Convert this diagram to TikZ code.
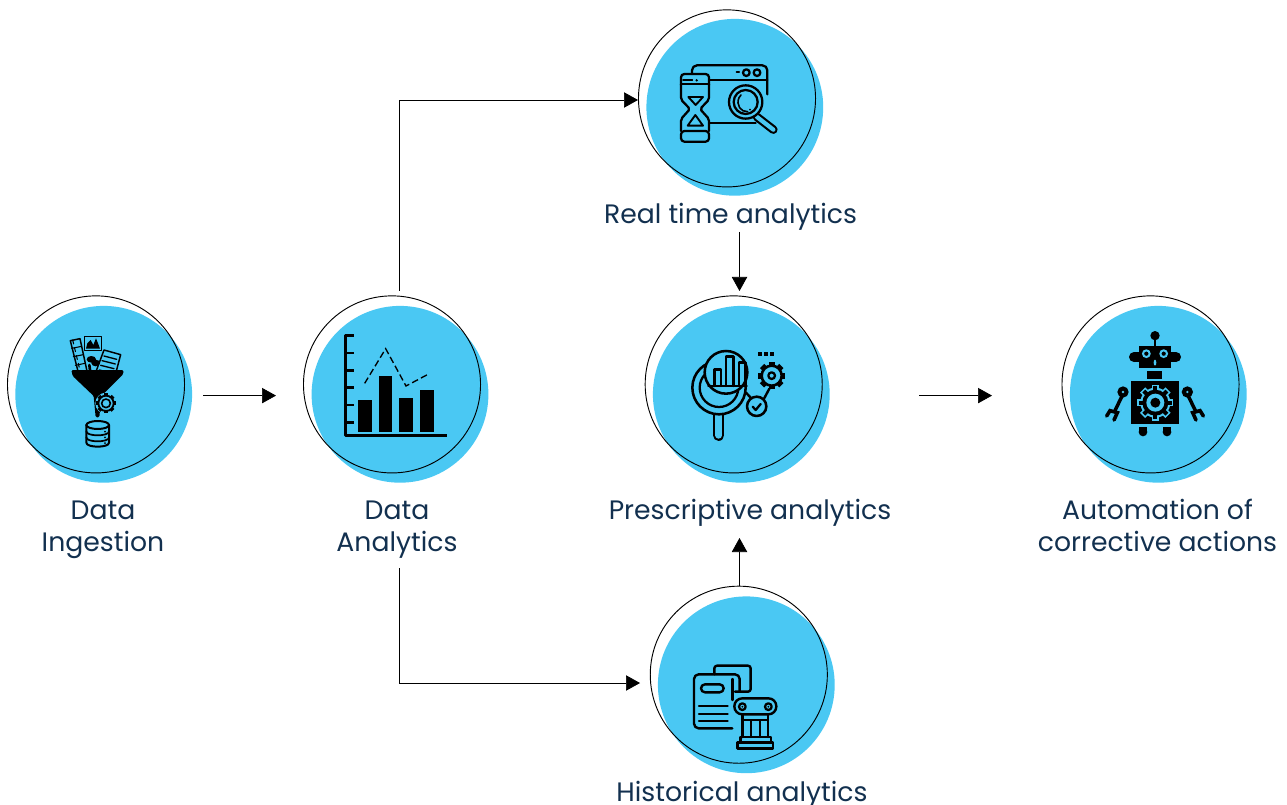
\documentclass[tikz,border=0pt]{standalone}
\usepackage{fontspec}
\setmainfont{Poppins}
\usetikzlibrary{arrows.meta}
\definecolor{skyfill}{HTML}{4AC8F3}
\definecolor{inkblue}{HTML}{12304F}
\tikzset{
 disc/.style={circle,fill=skyfill,draw=none,minimum size=132.6pt,inner sep=0pt},
 ring/.style={circle,draw=black,line width=0.7pt,minimum size=132.8pt,inner sep=0pt},
 lab/.style={text=inkblue,font=\fontsize{20pt}{24pt}\selectfont,align=center,inner sep=0pt,anchor=base},
 conn/.style={draw=black,line width=0.55pt,-{Triangle[length=10.5pt,width=11.5pt]}},
 ic/.style={draw=black,line width=1.7pt,line join=round,line cap=round},
 icon/.style={x=0.25pt,y=-0.25pt}
}
\begin{document}
\begin{tikzpicture}[x=0.75pt,y=-0.75pt]
\useasboundingbox (0,0) rectangle (1287,805);
% discs
\node[disc] (d1) at (103.7,394.3) {};
\node[disc] (d2) at (400,394.3) {};
\node[disc] (d3) at (734.8,107.3) {};
\node[disc] (d4) at (741.3,394.3) {};
\node[disc] (d5) at (746.3,684.8) {};
\node[disc] (d6) at (1158.3,394.3) {};
% rings
\node[ring] (n1) at (96,384.4) {};
\node[ring] (n2) at (392,384.4) {};
\node[ring] (n3) at (727,98.4) {};
\node[ring] (n4) at (733.7,384.4) {};
\node[ring] (n5) at (738.8,674.7) {};
\node[ring] (n6) at (1150.5,384.4) {};
% labels
\node[lab] (t1) at (103,551) {Data\\Ingestion};
\node[lab] (t2) at (397,551) {Data\\Analytics};
\node[lab] (t3) at (730.5,224) {Real time analytics};
\node[lab] (t4) at (750,519.3) {Prescriptive analytics};
\node[lab] (t5) at (742,801.3) {Historical analytics};
\node[lab] (t6) at (1157.5,551) {Automation of\\corrective actions};
% connector ends
\coordinate (a1s) at (203,395.6); \coordinate (a1e) at (276,395.6);
\coordinate (a2s) at (399.5,291); \coordinate (a2e) at (638,100);
\coordinate (a3s) at (399.5,568); \coordinate (a3e) at (640,683);
\coordinate (a4s) at (739.5,232); \coordinate (a4e) at (739.5,291);
\coordinate (a5s) at (739.5,586); \coordinate (a5e) at (739.5,538);
\coordinate (a6s) at (919,395.6); \coordinate (a6e) at (992,395.6);
\draw[conn] (a1s) -- (a1e);
\draw[conn] (a2s) |- (a2e);
\draw[conn] (a3s) |- (a3e);
\draw[conn] (a4s) -- (a4e);
\draw[conn] (a5s) -- (a5e);
\draw[conn] (a6s) -- (a6e);
% ---- icon 1: funnel
\begin{scope}[shift={(0,290)},icon]
 \draw[ic,line width=1.1pt] (211,152) -- (240,146) -- (262,248) -- (236,252) -- cycle;
 \draw[ic,line width=0.8pt,dashed] (218,150) -- (242,250);
 \draw[ic,line width=0.8pt] (215,175) -- (245,169) (220,200) -- (250,194) (226,226) -- (255,220);
 \draw[ic,line width=1.1pt] (254,140) rectangle (304,182);
 \fill (258,176) -- (262,160) -- (272,150) -- (280,165) -- (288,145) -- (296,165) -- (300,176) -- cycle;
 \draw[ic,line width=1.1pt,fill=skyfill] (312,180) -- (362,194) -- (344,262) -- (286,250) -- cycle;
 \draw[ic,line width=1pt] (312,198) -- (350,208) (306,212) -- (346,222) (302,226) -- (342,236) (298,240) -- (330,248);
 \fill (274,208) ellipse (14 and 10); \fill (287,219) ellipse (13 and 10);
 \draw[ic,line width=2pt] (268,225) -- (272,255);
 \fill[black,rounded corners=1pt] (214,240) -- (370,240) -- (370,252) -- (304,318) -- (298,382) -- (287,382) -- (281,318) -- (218,258) -- cycle;
 \begin{scope}[shift={(318,340)}]
 \fill[skyfill] (0,0) circle (32);
 \foreach \a in {0,45,...,315}{\fill[black,rotate=\a] (-6,-30) rectangle (6,-20);}
 \draw[ic,line width=1.4pt,fill=skyfill] (0,0) circle (23);
 \draw[ic,line width=1.2pt] (0,0) circle (13);
 \end{scope}
 \draw[ic,line width=1.5pt] (259,405) -- (259,458) .. controls (259,474) and (327,474) .. (327,458) -- (327,405);
 \draw[ic,line width=1.5pt] (293,405) ellipse (34 and 12);
 \draw[ic,line width=1.3pt] (259,424) .. controls (259,440) and (327,440) .. (327,424);
 \draw[ic,line width=1.3pt] (259,442) .. controls (259,458) and (327,458) .. (327,442);
 \fill (315,425) circle (3) (315,442) circle (3) (315,459) circle (3);
\end{scope}
% ---- icon 2: chart
\begin{scope}[shift={(300,290)},icon]
 \draw[ic,line width=1.8pt,line cap=butt] (161,136) -- (137,136) -- (137,436) -- (440,436);
 \foreach \y in {189,241,293,345,397}{\draw[ic,line width=1.8pt,line cap=butt] (137,\y) -- (161,\y);}
 \foreach \xa/\ya in {174/331,236/259,298/324,360/299}{\fill[black] (\xa,\ya) rectangle (\xa+41,426);}
 \draw[black,line width=1pt,dash pattern=on 5pt off 2.5pt] (194,280) -- (257,176) -- (318,288) -- (382,254);
\end{scope}
% ---- icon 3: hourglass & window
\begin{scope}[shift={(635,5)},icon]
 \draw[ic,rounded corners=3.75pt] (171,207) -- (171,181) -- (397,181) -- (397,268);
 \draw[ic] (225,225) -- (397,225);
 \draw[ic] (305,202) -- (312,202);
 \draw[ic] (334,203) circle (10); \draw[ic] (366,203) circle (10);
 \draw[ic] (225,354) -- (362,354);
 \draw[ic,rounded corners=2.5pt] (138,240) -- (138,207) -- (222,207) -- (222,240);
 \draw[ic,line width=1.3pt] (144,224) -- (172,224) (140,238) -- (220,238);
 \fill (185,226) circle (4);
 \draw[ic,rounded corners=1.5pt] (138,238) -- (138,284) -- (165,312) -- (138,342) -- (138,378);
 \draw[ic,rounded corners=1.5pt] (222,238) -- (222,284) -- (195,312) -- (222,342) -- (222,378);
 \draw[ic,rounded corners=2.5pt] (138,378) -- (138,410) -- (222,410) -- (222,378) -- cycle;
 \draw[ic,line width=1.4pt] (160,276) -- (204,276) -- (182,300) -- cycle;
 \draw[ic,line width=1.4pt] (158,362) -- (204,362) -- (181,330) -- cycle;
 \draw[black,line width=6.4pt,line cap=round] (366,336) -- (415,374);
 \draw[skyfill,line width=3.2pt,line cap=round] (366,336) -- (415,374);
 \draw[ic,fill=skyfill] (332,291) circle (50);
 \draw[ic] (332,291) circle (36);
 \draw[ic,line width=1.2pt] (338,320) .. controls (318,322) and (302,300) .. (312,278) .. controls (314,274) and (316,272) .. (318,270);
 \fill (345,314) circle (3);
\end{scope}
% ---- icon 4: prescriptive
\begin{scope}[shift={(640,290)},icon]
 \draw[black,line width=8.4pt,line cap=round] (236,360) -- (236,436);
 \draw[skyfill,line width=5pt,line cap=round] (236,360) -- (236,436);
 \draw[ic,line width=1.9pt,fill=skyfill] (237,293) circle (80);
 \draw[ic,line width=1.7pt] (237,293) circle (58);
 \draw[ic,fill=skyfill,line width=1.9pt] (258,247) circle (64);
 \draw[ic,line width=1.8pt] (205,288) -- (320,288);
 \draw[ic,line width=1.8pt] (224,288) -- (224,238) -- (243,238) -- (243,288);
 \draw[ic,line width=1.8pt] (258,288) -- (258,200) -- (280,200) -- (280,288);
 \draw[ic,line width=1.8pt] (297,288) -- (297,218) -- (317,218) -- (317,288);
 \foreach \x in {354,372,390}{\fill[black] (\x,186) rectangle (\x+12,198);}
 \draw[ic,line width=1.8pt] (318,308) -- (333,324);
 \draw[ic,line width=1.8pt] (371,328) -- (388,296);
 \draw[ic,line width=1.9pt] (350,349) circle (29);
 \draw[ic,line width=1.7pt] (338,350) -- (347,360) -- (362,342);
 \begin{scope}[shift={(395,257)}]
 \foreach \a in {0,45,...,315}{\fill[black,rotate=\a] (-9,-41) rectangle (9,-28);}
 \draw[ic,line width=1.9pt,fill=skyfill] (0,0) circle (30);
 \draw[ic,line width=1.7pt] (0,0) circle (10);
 \end{scope}
\end{scope}
% ---- icon 5: history
\begin{scope}[shift={(645,585)},icon]
 \draw[ic,line width=1.8pt,rounded corners=2pt] (208,268) -- (208,242) -- (317,242) -- (317,320) -- (270,320);
 \draw[ic,line width=1.8pt,rounded corners=3.5pt] (262,430) -- (147,430) -- (147,268) -- (284,268) -- (284,320);
 \draw[ic,line width=1.8pt] (262,282) -- (262,345);
 \draw[ic,line width=1.8pt,rounded corners=3pt] (168,298) rectangle (236,322);
 \draw[ic,line width=1.7pt] (162,364) -- (248,364) (162,386) -- (248,386) (162,407) -- (248,407);
 \draw[ic,line width=1.8pt,fill=skyfill,rounded corners=5.9pt] (268,340) rectangle (394,388);
 \draw[ic,line width=1.7pt] (292,365) circle (10); \draw[ic,line width=1.7pt] (370,365) circle (10);
 \fill (292,365) circle (3); \fill (370,365) circle (3);
 \draw[ic,line width=1.8pt] (293,388) -- (293,456) (369,388) -- (369,456);
 \draw[ic,line width=1.7pt] (297,405) -- (365,405);
 \draw[ic,line width=1.5pt] (318,408) -- (318,456) (344,408) -- (344,456);
 \draw[ic,line width=1.8pt] (286,456) -- (378,456) -- (378,472) -- (286,472) -- cycle;
 \draw[ic,line width=1.8pt] (278,472) rectangle (384,490);
\end{scope}
% ---- icon 6: robot
\begin{scope}[shift={(1060,290)},icon]
 \fill (285,137) circle (14);
 \draw[black,line width=1.7pt] (285,140) -- (285,170);
 \fill (237,167) rectangle (333,234);
 \fill (222,201) circle (15); \fill (222,186) rectangle (237,216);
 \fill (348,201) circle (15); \fill (333,186) rectangle (348,216);
 \draw[skyfill,line width=1.5pt] (259,191) circle (10); \draw[skyfill,line width=1.5pt] (311,191) circle (10);
 \fill[skyfill] (285,218) ellipse (4 and 9);
 \fill (262,243) rectangle (306,267);
 \fill (212,274) rectangle (358,403);
 \begin{scope}[shift={(286,338)}]
 \foreach \a in {0,45,...,315}{\fill[skyfill,rotate=\a] (-11,-54) rectangle (11,-38);}
 \fill[skyfill] (0,0) circle (45);
 \foreach \a in {0,45,...,315}{\fill[black,rotate=\a] (-6,-49) rectangle (6,-36);}
 \fill[black] (0,0) circle (39);
 \fill[skyfill] (0,0) circle (27);
 \fill[black] (0,0) circle (15);
 \end{scope}
 \fill (236,410) rectangle (262,426); \fill (249,426) circle (13);
 \fill (308,410) rectangle (334,426); \fill (321,426) circle (13);
 \fill (189,306) circle (17); \fill[skyfill] (189,306) circle (4);
 \fill (382,306) circle (17); \fill[skyfill] (382,306) circle (4);
 \draw[black,line width=2.6pt] (189,312) -- (162,368);
 \draw[black,line width=2.6pt] (382,312) -- (409,368);
 \draw[black,line width=2.7pt,line cap=round] (140,378) -- (150,362) -- (172,368) -- (162,390);
 \draw[black,line width=2.7pt,line cap=round] (430,378) -- (420,362) -- (398,368) -- (408,390);
\end{scope}
\end{tikzpicture}
\end{document}
